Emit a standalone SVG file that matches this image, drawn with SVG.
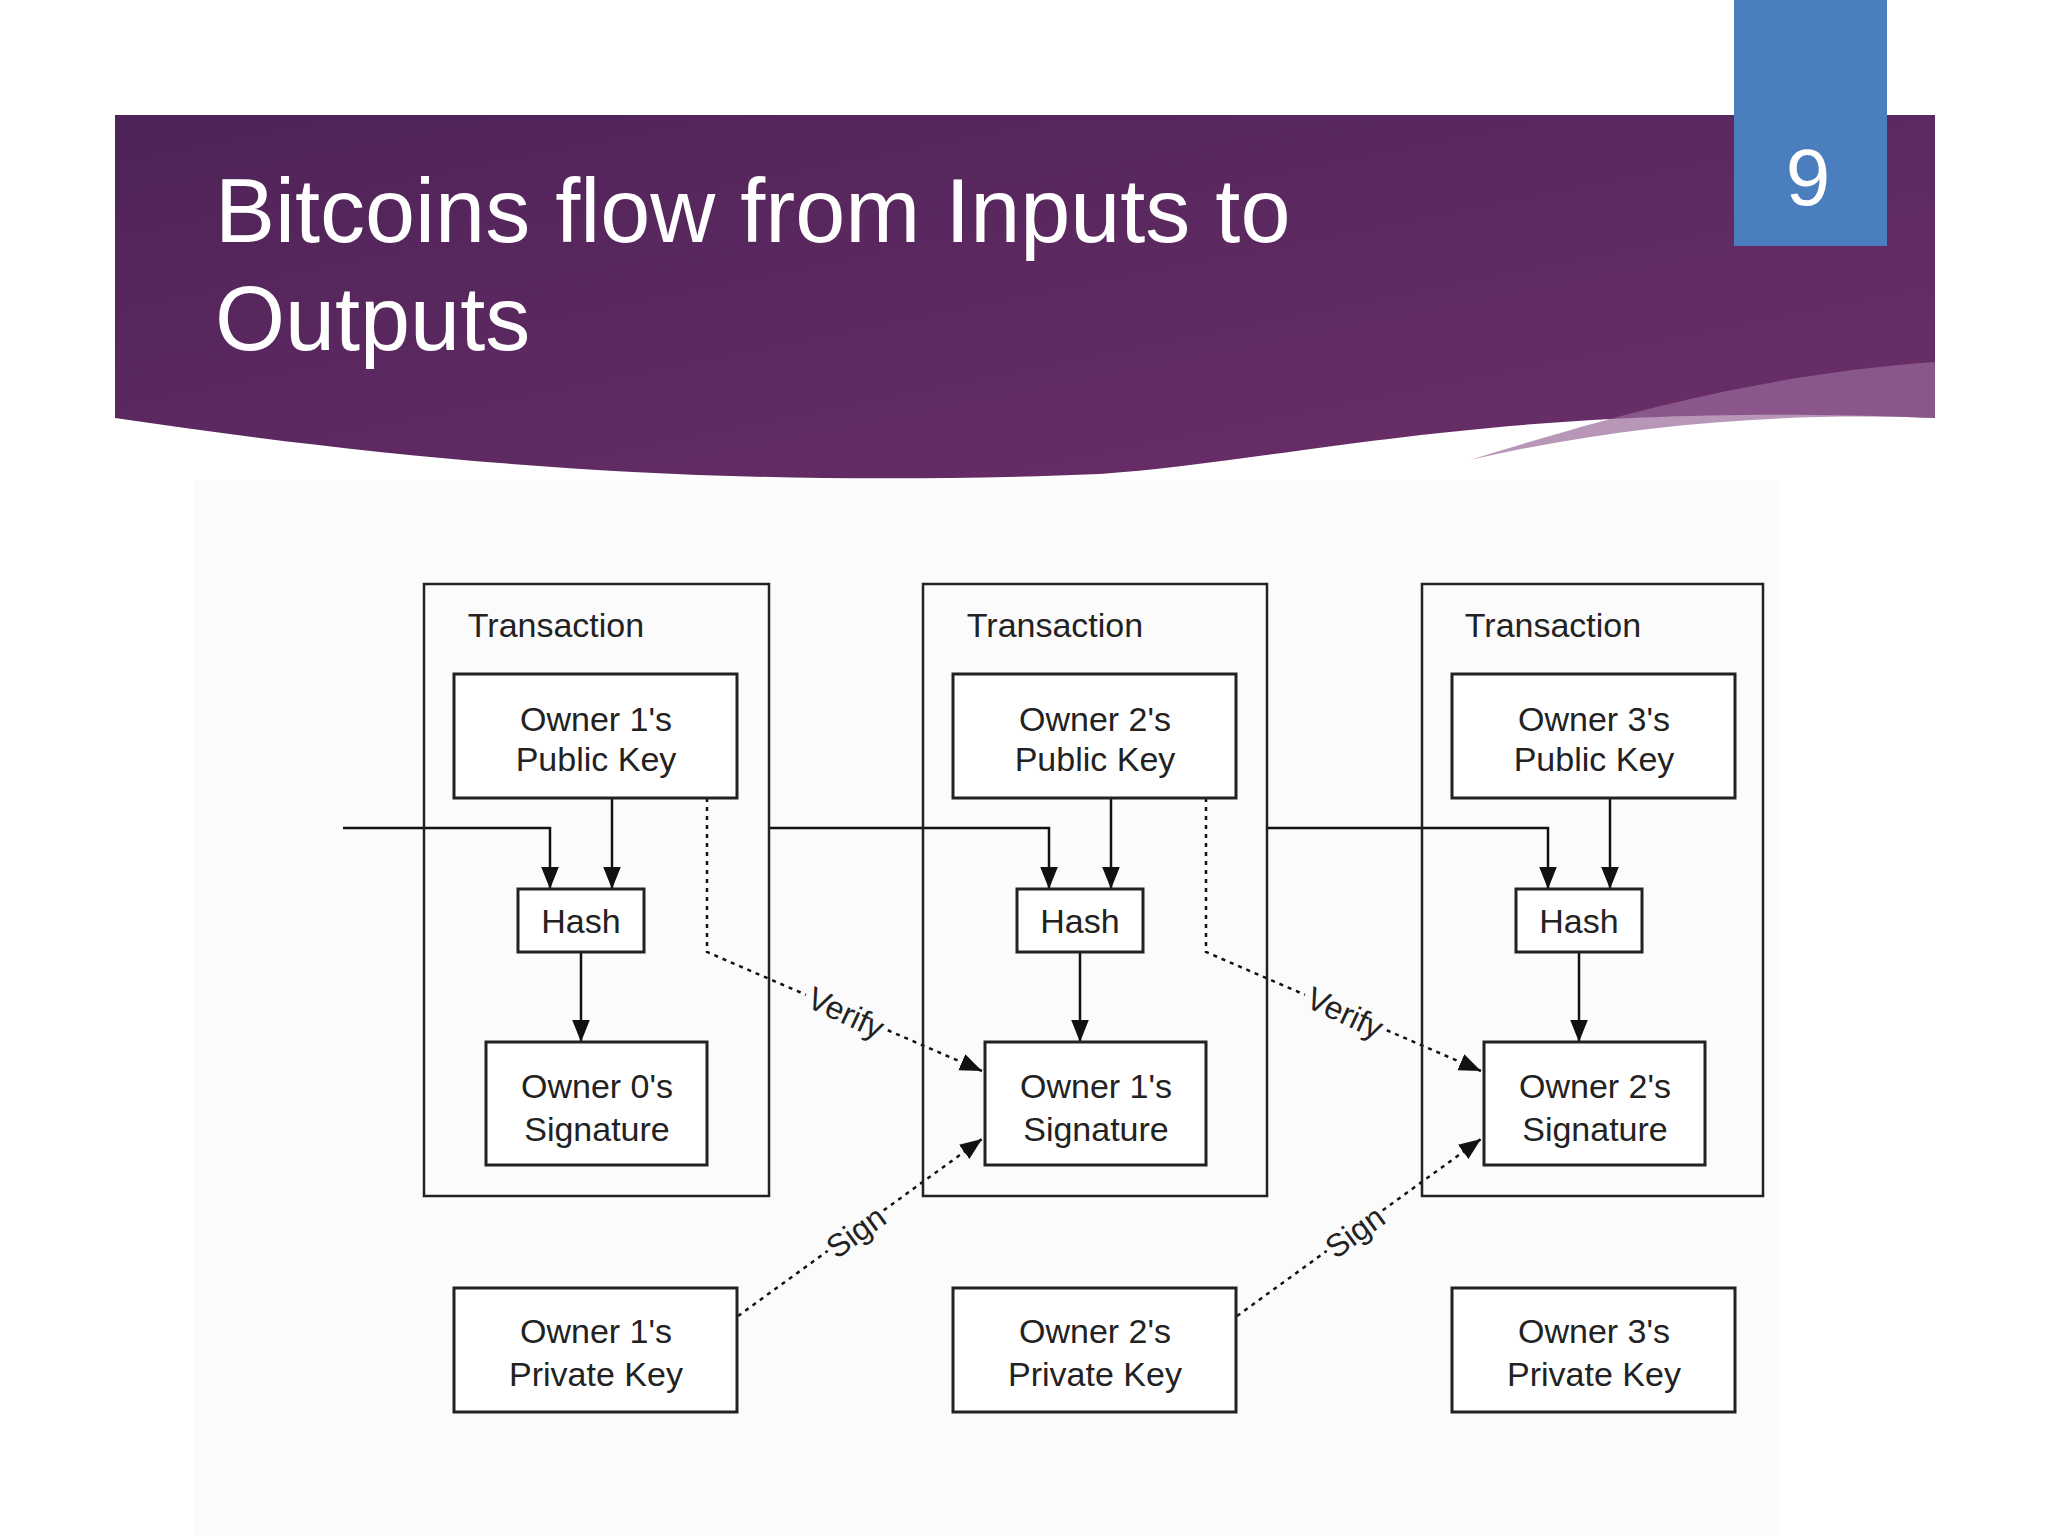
<svg xmlns="http://www.w3.org/2000/svg" width="2048" height="1536" viewBox="0 0 2048 1536">
<defs>
<linearGradient id="bg" x1="0" y1="0" x2="1" y2="1"><stop offset="0" stop-color="#4e2358"/><stop offset="1" stop-color="#6c2f6a"/></linearGradient>
<marker id="a" viewBox="0 0 10 10" refX="10" refY="5" markerWidth="22" markerHeight="22" markerUnits="userSpaceOnUse" orient="auto"><path d="M0,1 L10,5 L0,9 z" fill="#111"/></marker>
</defs>
<style>
.b{fill:none;stroke:#222;stroke-width:2.5}
.n{fill:#fff;stroke:#222;stroke-width:3}
.t{font-family:"Liberation Sans",Arial,sans-serif;font-size:34px;fill:#222;text-anchor:middle}
.l{stroke:#111;stroke-width:2.5;fill:none}
.d{stroke:#111;stroke-width:2.5;fill:none;stroke-dasharray:4 5}
.lab{font-family:"Liberation Sans",Arial,sans-serif;font-size:32px;fill:#222;text-anchor:middle}
.lb{fill:#fbfbfb}
</style>
<rect width="2048" height="1536" fill="#fff"/>
<rect x="194" y="480" width="1586" height="1056" fill="#fbfbfb"/>
<path d="M115,115 H1935 V418 C1500,400 1300,460 1100,474 C700,490 400,460 115,418 Z" fill="url(#bg)"/>
<path d="M1470,460 C1600,420 1750,375 1935,362 V418 C1780,412 1620,425 1470,460 Z" fill="#9a6a9a" opacity="0.7"/>
<text x="215" y="242" font-family="Liberation Sans,Arial,sans-serif" font-size="90" fill="#fff">Bitcoins flow from Inputs to</text>
<text x="215" y="350" font-family="Liberation Sans,Arial,sans-serif" font-size="90" fill="#fff">Outputs</text>
<rect x="1734" y="0" width="153" height="246" fill="#4a7ebf"/>
<text x="1808" y="205" font-family="Liberation Sans,Arial,sans-serif" font-size="80" fill="#fff" text-anchor="middle">9</text>
<g id="connectors">
<g id="col1c">
<polyline class="l" points="343,828 550,828 550,889" marker-end="url(#a)"/>
<line class="l" x1="612" y1="798" x2="612" y2="889" marker-end="url(#a)"/>
<line class="l" x1="581" y1="952" x2="581" y2="1042" marker-end="url(#a)"/>
<polyline class="d" points="707,798 707,952 982,1071" marker-end="url(#a)"/>
<line class="d" x1="738" y1="1316" x2="982" y2="1139" marker-end="url(#a)"/>
</g>
<g transform="translate(499,0)">
<polyline class="l" points="270,828 550,828 550,889" marker-end="url(#a)"/>
<line class="l" x1="612" y1="798" x2="612" y2="889" marker-end="url(#a)"/>
<line class="l" x1="581" y1="952" x2="581" y2="1042" marker-end="url(#a)"/>
<polyline class="d" points="707,798 707,952 982,1071" marker-end="url(#a)"/>
<line class="d" x1="738" y1="1316" x2="982" y2="1139" marker-end="url(#a)"/>
</g>
<g transform="translate(998,0)">
<polyline class="l" points="270,828 550,828 550,889" marker-end="url(#a)"/>
<line class="l" x1="612" y1="798" x2="612" y2="889" marker-end="url(#a)"/>
<line class="l" x1="581" y1="952" x2="581" y2="1042" marker-end="url(#a)"/>
</g>
<g transform="translate(846,1013) rotate(25)"><rect class="lb" x="-44" y="-14" width="88" height="28"/><text class="lab" y="11">Verify</text></g>
<g transform="translate(1345,1013) rotate(25)"><rect class="lb" x="-44" y="-14" width="88" height="28"/><text class="lab" y="11">Verify</text></g>
<g transform="translate(856,1232) rotate(-36)"><rect class="lb" x="-34" y="-14" width="68" height="28"/><text class="lab" y="11">Sign</text></g>
<g transform="translate(1355,1232) rotate(-36)"><rect class="lb" x="-34" y="-14" width="68" height="28"/><text class="lab" y="11">Sign</text></g>
</g>
<g id="tx1"><rect class="b" x="424" y="584" width="345" height="612"/><text class="t" x="556" y="637">Transaction</text></g>
<g id="tx2"><rect class="b" x="923" y="584" width="344" height="612"/><text class="t" x="1055" y="637">Transaction</text></g>
<g id="tx3"><rect class="b" x="1422" y="584" width="341" height="612"/><text class="t" x="1553" y="637">Transaction</text></g>
<g id="pub1"><rect class="n" x="454" y="674" width="283" height="124"/><text class="t" x="596" y="731">Owner 1's</text><text class="t" x="596" y="771">Public Key</text></g>
<g id="pub2"><rect class="n" x="953" y="674" width="283" height="124"/><text class="t" x="1095" y="731">Owner 2's</text><text class="t" x="1095" y="771">Public Key</text></g>
<g id="pub3"><rect class="n" x="1452" y="674" width="283" height="124"/><text class="t" x="1594" y="731">Owner 3's</text><text class="t" x="1594" y="771">Public Key</text></g>
<g id="hash1"><rect class="n" x="518" y="889" width="126" height="63"/><text class="t" x="581" y="933">Hash</text></g>
<g id="hash2"><rect class="n" x="1017" y="889" width="126" height="63"/><text class="t" x="1080" y="933">Hash</text></g>
<g id="hash3"><rect class="n" x="1516" y="889" width="126" height="63"/><text class="t" x="1579" y="933">Hash</text></g>
<g id="sig1"><rect class="n" x="486" y="1042" width="221" height="123"/><text class="t" x="597" y="1098">Owner 0's</text><text class="t" x="597" y="1141">Signature</text></g>
<g id="sig2"><rect class="n" x="985" y="1042" width="221" height="123"/><text class="t" x="1096" y="1098">Owner 1's</text><text class="t" x="1096" y="1141">Signature</text></g>
<g id="sig3"><rect class="n" x="1484" y="1042" width="221" height="123"/><text class="t" x="1595" y="1098">Owner 2's</text><text class="t" x="1595" y="1141">Signature</text></g>
<g id="priv1"><rect class="n" x="454" y="1288" width="283" height="124"/><text class="t" x="596" y="1343">Owner 1's</text><text class="t" x="596" y="1386">Private Key</text></g>
<g id="priv2"><rect class="n" x="953" y="1288" width="283" height="124"/><text class="t" x="1095" y="1343">Owner 2's</text><text class="t" x="1095" y="1386">Private Key</text></g>
<g id="priv3"><rect class="n" x="1452" y="1288" width="283" height="124"/><text class="t" x="1594" y="1343">Owner 3's</text><text class="t" x="1594" y="1386">Private Key</text></g>
</svg>
